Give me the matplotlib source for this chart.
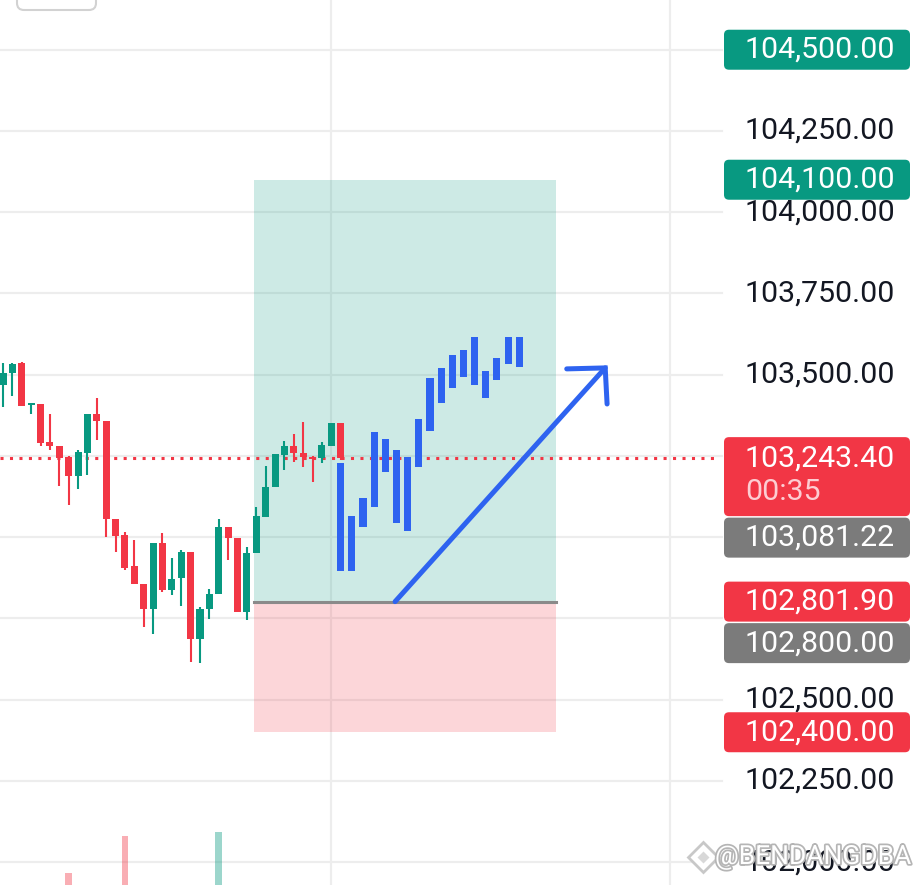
import numpy as np
import matplotlib.pyplot as plt
from matplotlib.patches import Rectangle, FancyBboxPatch
import matplotlib.patheffects as pe

plt.rcParams['font.family'] = ['Roboto', 'DejaVu Sans']

GREEN = '#089981'
RED = '#F23645'
BLUE = '#2E63F0'
GRAY_TAG = '#7B7B7B'
GRID = '#EDEDED'
TXT = '#131722'

# candles (one per index, left to right)
opens = [103468, 103505, 103536, 103407, 103410, 103293, 103281, 103247, 103188, 103259,
         103379, 103358, 103056, 103007, 102912, 102856, 102779, 102982, 102838, 102875,
         102955, 102687, 102779, 102825, 103032, 102998, 102770, 102952, 103062, 103155,
         103253, 103281, 103259, 103247, 103244, 103281, 103352]
highs = [103536, 103536, 103539, 103413, 103410, 103379, 103281, 103250, 103268, 103379,
         103428, 103358, 103056, 103016, 102992, 102856, 102982, 103013, 102936, 102961,
         102955, 102785, 102841, 103056, 103032, 102998, 102970, 103093, 103219, 103256,
         103296, 103318, 103355, 103250, 103293, 103352, 103352]
lows = [103401, 103435, 103404, 103379, 103281, 103268, 103158, 103099, 103148, 103192,
        103299, 103001, 102955, 102899, 102856, 102724, 102702, 102832, 102822, 102788,
        102616, 102613, 102748, 102825, 102930, 102770, 102745, 102952, 103062, 103155,
        103207, 103232, 103216, 103170, 103229, 103281, 103238]
closes = [103505, 103533, 103404, 103413, 103290, 103281, 103244, 103188, 103262, 103379,
          103358, 103056, 103004, 102905, 102856, 102779, 102982, 102838, 102872, 102955,
          102687, 102779, 102825, 103032, 102998, 102770, 102952, 103065, 103155, 103256,
          103281, 103259, 103247, 103241, 103284, 103352, 103243.4]

# visible volume bars
vol_idx = [7, 13, 23]
vol = [4.0, 16.3, 17.7]

# projected (bars pattern) in blue
proj_top = [103229, 103065, 103121, 103324, 103302, 103268, 103247, 103364, 103490,
            103521, 103561, 103576, 103616, 103512, 103552, 103616, 103616]
proj_bot = [102896, 102896, 103032, 103093, 103201, 103044, 103019, 103216, 103327,
            103413, 103459, 103493, 103468, 103428, 103484, 103533, 103524]

# long position tool
zone_start, zone_end = 26.75, 59.0
target, entry, stop = 104100.0, 102801.9, 102400.0

arrow_x = [41.8, 64.2]
arrow_y = [102801.9, 103521.0]
head_x = [60.1, 64.2, 64.4]
head_y = [103518.0, 103521.0, 103410.0]

last_price = 103243.40
countdown = '00:35'

tick_prices = np.arange(102000, 104501, 250)
tags = [(104500.00, GREEN), (104100.00, GREEN), (103243.40, RED), (103081.22, GRAY_TAG),
        (102801.90, RED), (102800.00, GRAY_TAG), (102400.00, RED)]

W, H = 920, 885
fig = plt.figure(figsize=(W / 100, H / 100), dpi=100)
fig.patch.set_facecolor('white')

ax = fig.add_axes([0, 0, 1, 1])
ax.set_xlim(-0.32, 97.76)
ax.set_ylim(101930, 104653)
ax.axis('off')

# grid
for p in tick_prices:
    ax.axhline(p, xmax=722 / W, color=GRID, lw=1.6, zorder=0.5)
for gx in [35.0, 71.1]:
    ax.axvline(gx, color=GRID, lw=1.6, zorder=0.5)

# position zones
ax.add_patch(Rectangle((zone_start, entry), zone_end - zone_start, target - entry,
                       facecolor=GREEN, alpha=0.2, lw=0, zorder=1))
ax.add_patch(Rectangle((zone_start, stop), zone_end - zone_start, entry - stop,
                       facecolor=RED, alpha=0.2, lw=0, zorder=1))
ax.plot([zone_start, zone_end], [entry, entry], color='#8A8A8A', lw=2.2, zorder=1.5)

# last price line
ax.axhline(last_price, xmax=718 / W, color=RED, lw=2.2, linestyle=(0, (1, 2.1)), zorder=2.5)

# candles
o = np.array(opens, dtype=float)
c = np.array(closes, dtype=float)
x = np.arange(len(o))
cols = [GREEN if cc >= oo else RED for oo, cc in zip(o, c)]
ax.vlines(x, lows, highs, colors=cols, lw=1.5, zorder=3)
ax.bar(x, np.maximum(np.abs(c - o), 4), bottom=np.minimum(o, c), width=0.75,
       color=cols, zorder=3)

# projection bars
xp = 36 + 1.19 * np.arange(len(proj_top))
ax.bar(xp, np.array(proj_top) - np.array(proj_bot), bottom=proj_bot, width=0.75,
       color=BLUE, zorder=4)

# arrow
ax.plot(arrow_x, arrow_y, color=BLUE, lw=3.6, solid_capstyle='round', zorder=5)
ax.plot(head_x, head_y, color=BLUE, lw=3.6, solid_capstyle='round',
        solid_joinstyle='miter', zorder=5)

# volume
vax = fig.add_axes([0, 0, 1, 1], sharex=ax)
vax.set_ylim(0, 295)
vax.axis('off')
vax.patch.set_alpha(0)
vcols = [GREEN if closes[i] >= opens[i] else RED for i in vol_idx]
vax.bar(vol_idx, vol, width=0.7, color=vcols, alpha=0.4)

# overlay in pixels for the price scale
ov = fig.add_axes([0, 0, 1, 1])
ov.set_xlim(0, W)
ov.set_ylim(H, 0)
ov.axis('off')
ov.patch.set_alpha(0)


def to_px(price):
    return H - ax.transData.transform((0, price))[1]


FS = 21.8

# stack the tags so they do not overlap
boxes = []
prev_bottom = -1e9
for price, col in tags:
    y = to_px(price)
    if price == last_price:
        top, h = y - 21, 79
    else:
        top, h = y - 20, 40
    if top < prev_bottom + 1.5:
        shift = prev_bottom + 1.5 - top
        top += shift
        y += shift
    boxes.append((price, col, y, top, h))
    prev_bottom = top + h

# scale labels, hidden where a tag sits on them
for p in tick_prices:
    yp = to_px(p)
    if any(top <= yp <= top + h for _, _, _, top, h in boxes):
        continue
    ov.text(895, yp, f'{p:,.2f}', ha='right', va='center', fontsize=FS, color=TXT)

for price, col, y, top, h in boxes:
    ov.add_patch(FancyBboxPatch((724, top), 186, h,
                                boxstyle='round,pad=0,rounding_size=5',
                                facecolor=col, edgecolor='none', zorder=5))
    ov.text(895, y, f'{price:,.2f}', ha='right', va='center', fontsize=FS,
            color='white', zorder=6)
    if price == last_price:
        ov.text(745, y + 34, countdown, ha='left', va='center', fontsize=FS,
                color='#FDCDD2', zorder=6)

# small button outline at top left
ov.add_patch(FancyBboxPatch((17, -30), 79, 40, boxstyle='round,pad=0,rounding_size=7',
                            facecolor='white', edgecolor='#D2D2D2', lw=1.5, zorder=6))

# watermark
ov.plot(703, 857, marker='D', ms=15, mfc='white', mec='#C8C8C8', mew=2, zorder=7)
ov.plot(703, 857, marker='D', ms=6, mfc='#D8D8D8', mec='none', zorder=7)
ov.text(911, 857, '@BENDANGDBA', ha='right', va='center', fontsize=19, color='white',
        zorder=7, path_effects=[pe.withStroke(linewidth=2.5, foreground='#B5B5B5')])

fig.savefig('out.png', dpi=100)
